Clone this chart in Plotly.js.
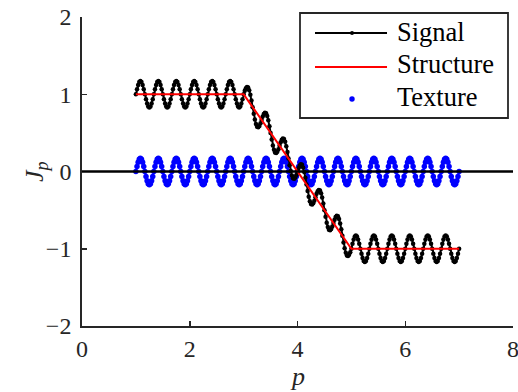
<!DOCTYPE html>
<html><head><meta charset="utf-8">
<script src="https://cdn.plot.ly/plotly-3.0.1.min.js"></script>
<style>html,body{margin:0;padding:0;background:#fff;}#chart{width:518px;height:392px;}</style>
</head><body><div id="chart"></div>
<script>
var p = [
1,1.021,1.042,1.063,1.083,1.104,1.125,1.146,1.167,1.188,1.208,1.229,1.25,1.271,1.292,1.313,1.333,1.354,1.375,1.396,1.417,1.438,1.458,1.479,1.5,1.521,1.542,1.563,1.583,1.604,1.625,1.646,1.667,1.688,1.708,1.729,1.75,1.771,1.792,1.813,1.833,1.854,1.875,1.896,1.917,1.938,1.958,1.979,
2,2.021,2.042,2.063,2.083,2.104,2.125,2.146,2.167,2.188,2.208,2.229,2.25,2.271,2.292,2.313,2.333,2.354,2.375,2.396,2.417,2.438,2.458,2.479,2.5,2.521,2.542,2.563,2.583,2.604,2.625,2.646,2.667,2.688,2.708,2.729,2.75,2.771,2.792,2.813,2.833,2.854,2.875,2.896,2.917,2.938,2.958,2.979,
3,3.021,3.042,3.063,3.083,3.104,3.125,3.146,3.167,3.188,3.208,3.229,3.25,3.271,3.292,3.313,3.333,3.354,3.375,3.396,3.417,3.438,3.458,3.479,3.5,3.521,3.542,3.563,3.583,3.604,3.625,3.646,3.667,3.688,3.708,3.729,3.75,3.771,3.792,3.813,3.833,3.854,3.875,3.896,3.917,3.938,3.958,3.979,
4,4.021,4.042,4.063,4.083,4.104,4.125,4.146,4.167,4.188,4.208,4.229,4.25,4.271,4.292,4.313,4.333,4.354,4.375,4.396,4.417,4.438,4.458,4.479,4.5,4.521,4.542,4.563,4.583,4.604,4.625,4.646,4.667,4.688,4.708,4.729,4.75,4.771,4.792,4.813,4.833,4.854,4.875,4.896,4.917,4.938,4.958,4.979,
5,5.021,5.042,5.063,5.083,5.104,5.125,5.146,5.167,5.188,5.208,5.229,5.25,5.271,5.292,5.313,5.333,5.354,5.375,5.396,5.417,5.438,5.458,5.479,5.5,5.521,5.542,5.563,5.583,5.604,5.625,5.646,5.667,5.688,5.708,5.729,5.75,5.771,5.792,5.813,5.833,5.854,5.875,5.896,5.917,5.938,5.958,5.979,
6,6.021,6.042,6.063,6.083,6.104,6.125,6.146,6.167,6.188,6.208,6.229,6.25,6.271,6.292,6.313,6.333,6.354,6.375,6.396,6.417,6.438,6.458,6.479,6.5,6.521,6.542,6.563,6.583,6.604,6.625,6.646,6.667,6.688,6.708,6.729,6.75,6.771,6.792,6.813,6.833,6.854,6.875,6.896,6.917,6.938,6.958,6.979,
7];

var texture = [
0,0.065,0.12,0.157,0.17,0.157,0.12,0.065,0,-0.065,-0.12,-0.157,-0.17,-0.157,-0.12,-0.065, 0,0.065,0.12,0.157,0.17,0.157,0.12,0.065,0,-0.065,-0.12,-0.157,-0.17,-0.157,-0.12,-0.065, 0,0.065,0.12,0.157,0.17,0.157,0.12,0.065,0,-0.065,-0.12,-0.157,-0.17,-0.157,-0.12,-0.065,
0,0.065,0.12,0.157,0.17,0.157,0.12,0.065,0,-0.065,-0.12,-0.157,-0.17,-0.157,-0.12,-0.065, 0,0.065,0.12,0.157,0.17,0.157,0.12,0.065,0,-0.065,-0.12,-0.157,-0.17,-0.157,-0.12,-0.065, 0,0.065,0.12,0.157,0.17,0.157,0.12,0.065,0,-0.065,-0.12,-0.157,-0.17,-0.157,-0.12,-0.065,
0,0.065,0.12,0.157,0.17,0.157,0.12,0.065,0,-0.065,-0.12,-0.157,-0.17,-0.157,-0.12,-0.065, 0,0.065,0.12,0.157,0.17,0.157,0.12,0.065,0,-0.065,-0.12,-0.157,-0.17,-0.157,-0.12,-0.065, 0,0.065,0.12,0.157,0.17,0.157,0.12,0.065,0,-0.065,-0.12,-0.157,-0.17,-0.157,-0.12,-0.065,
0,0.065,0.12,0.157,0.17,0.157,0.12,0.065,0,-0.065,-0.12,-0.157,-0.17,-0.157,-0.12,-0.065, 0,0.065,0.12,0.157,0.17,0.157,0.12,0.065,0,-0.065,-0.12,-0.157,-0.17,-0.157,-0.12,-0.065, 0,0.065,0.12,0.157,0.17,0.157,0.12,0.065,0,-0.065,-0.12,-0.157,-0.17,-0.157,-0.12,-0.065,
0,0.065,0.12,0.157,0.17,0.157,0.12,0.065,0,-0.065,-0.12,-0.157,-0.17,-0.157,-0.12,-0.065, 0,0.065,0.12,0.157,0.17,0.157,0.12,0.065,0,-0.065,-0.12,-0.157,-0.17,-0.157,-0.12,-0.065, 0,0.065,0.12,0.157,0.17,0.157,0.12,0.065,0,-0.065,-0.12,-0.157,-0.17,-0.157,-0.12,-0.065,
0,0.065,0.12,0.157,0.17,0.157,0.12,0.065,0,-0.065,-0.12,-0.157,-0.17,-0.157,-0.12,-0.065, 0,0.065,0.12,0.157,0.17,0.157,0.12,0.065,0,-0.065,-0.12,-0.157,-0.17,-0.157,-0.12,-0.065, 0,0.065,0.12,0.157,0.17,0.157,0.12,0.065,0,-0.065,-0.12,-0.157,-0.17,-0.157,-0.12,-0.065,
0];

var structure = [
1,1,1,1,1,1,1,1,1,1,1,1, 1,1,1,1,1,1,1,1,1,1,1,1, 1,1,1,1,1,1,1,1,1,1,1,1, 1,1,1,1,1,1,1,1,1,1,1,1,
1,1,1,1,1,1,1,1,1,1,1,1, 1,1,1,1,1,1,1,1,1,1,1,1, 1,1,1,1,1,1,1,1,1,1,1,1, 1,1,1,1,1,1,1,1,1,1,1,1,
1,0.979,0.958,0.938,0.917,0.896,0.875,0.854,0.833,0.813,0.792,0.771,0.75,0.729,0.708,0.688,0.667,0.646,0.625,0.604,0.583,0.563,0.542,0.521,0.5,0.479,0.458,0.438,0.417,0.396,0.375,0.354,0.333,0.313,0.292,0.271,0.25,0.229,0.208,0.188,0.167,0.146,0.125,0.104,0.083,0.063,0.042,0.021,
0,-0.021,-0.042,-0.063,-0.083,-0.104,-0.125,-0.146,-0.167,-0.188,-0.208,-0.229,-0.25,-0.271,-0.292,-0.313,-0.333,-0.354,-0.375,-0.396,-0.417,-0.438,-0.458,-0.479,-0.5,-0.521,-0.542,-0.563,-0.583,-0.604,-0.625,-0.646,-0.667,-0.688,-0.708,-0.729,-0.75,-0.771,-0.792,-0.813,-0.833,-0.854,-0.875,-0.896,-0.917,-0.938,-0.958,-0.979,
-1,-1,-1,-1,-1,-1,-1,-1,-1,-1,-1,-1, -1,-1,-1,-1,-1,-1,-1,-1,-1,-1,-1,-1, -1,-1,-1,-1,-1,-1,-1,-1,-1,-1,-1,-1, -1,-1,-1,-1,-1,-1,-1,-1,-1,-1,-1,-1,
-1,-1,-1,-1,-1,-1,-1,-1,-1,-1,-1,-1, -1,-1,-1,-1,-1,-1,-1,-1,-1,-1,-1,-1, -1,-1,-1,-1,-1,-1,-1,-1,-1,-1,-1,-1, -1,-1,-1,-1,-1,-1,-1,-1,-1,-1,-1,-1,
-1];

var signal = [
1,1.065,1.12,1.157,1.17,1.157,1.12,1.065,1,0.935,0.88,0.843,0.83,0.843,0.88,0.935, 1,1.065,1.12,1.157,1.17,1.157,1.12,1.065,1,0.935,0.88,0.843,0.83,0.843,0.88,0.935, 1,1.065,1.12,1.157,1.17,1.157,1.12,1.065,1,0.935,0.88,0.843,0.83,0.843,0.88,0.935,
1,1.065,1.12,1.157,1.17,1.157,1.12,1.065,1,0.935,0.88,0.843,0.83,0.843,0.88,0.935, 1,1.065,1.12,1.157,1.17,1.157,1.12,1.065,1,0.935,0.88,0.843,0.83,0.843,0.88,0.935, 1,1.065,1.12,1.157,1.17,1.157,1.12,1.065,1,0.935,0.88,0.843,0.83,0.843,0.88,0.935,
1,1.044,1.078,1.095,1.087,1.053,0.995,0.919,0.833,0.748,0.672,0.614,0.58,0.572,0.588,0.623,0.667,0.711,0.745,0.761,0.753,0.72,0.662,0.586,0.5,0.414,0.338,0.281,0.247,0.239,0.255,0.289,0.333,0.378,0.412,0.428,0.42,0.386,0.328,0.253,0.167,0.081,0.005,-0.053,-0.087,-0.095,-0.078,-0.044,
0,0.044,0.078,0.095,0.087,0.053,-0.005,-0.081,-0.167,-0.253,-0.328,-0.386,-0.42,-0.428,-0.412,-0.378,-0.333,-0.289,-0.255,-0.239,-0.247,-0.281,-0.338,-0.414,-0.5,-0.586,-0.662,-0.72,-0.753,-0.761,-0.745,-0.711,-0.667,-0.623,-0.588,-0.572,-0.58,-0.614,-0.672,-0.748,-0.833,-0.919,-0.995,-1.053,-1.087,-1.095,-1.078,-1.044,
-1,-0.935,-0.88,-0.843,-0.83,-0.843,-0.88,-0.935,-1,-1.065,-1.12,-1.157,-1.17,-1.157,-1.12,-1.065, -1,-0.935,-0.88,-0.843,-0.83,-0.843,-0.88,-0.935,-1,-1.065,-1.12,-1.157,-1.17,-1.157,-1.12,-1.065, -1,-0.935,-0.88,-0.843,-0.83,-0.843,-0.88,-0.935,-1,-1.065,-1.12,-1.157,-1.17,-1.157,-1.12,-1.065,
-1,-0.935,-0.88,-0.843,-0.83,-0.843,-0.88,-0.935,-1,-1.065,-1.12,-1.157,-1.17,-1.157,-1.12,-1.065, -1,-0.935,-0.88,-0.843,-0.83,-0.843,-0.88,-0.935,-1,-1.065,-1.12,-1.157,-1.17,-1.157,-1.12,-1.065, -1,-0.935,-0.88,-0.843,-0.83,-0.843,-0.88,-0.935,-1,-1.065,-1.12,-1.157,-1.17,-1.157,-1.12,-1.065,
-1];

var seriesNames = ['Signal', 'Structure', 'Texture'];
var xTicks = [0, 2, 4, 6, 8];
var yTicks = [-2, -1, 0, 1, 2];

if (p.length !== texture.length || p.length !== structure.length || p.length !== signal.length) {
  throw new Error('length mismatch ' + p.length + ' ' + texture.length + ' ' + structure.length + ' ' + signal.length);
}

var serif = 'Liberation Serif';
var axisColor = '#262626';

var traces = [
  {x: p, y: texture, name: seriesNames[2], mode: 'markers', type: 'scatter',
   marker: {color: '#0000ff', size: 5.5}, showlegend: false},
  {x: p, y: signal, name: seriesNames[0], mode: 'lines+markers', type: 'scatter',
   line: {color: '#000000', width: 2}, marker: {color: '#000000', size: 4.5}, showlegend: false},
  {x: p, y: structure, name: seriesNames[1], mode: 'lines', type: 'scatter',
   line: {color: '#ff0000', width: 2}, showlegend: false}
];

// legend geometry in paper coords
var lgX0 = 0.5058, lgX1 = 0.9884, lgY0 = 0.6731, lgY1 = 1.0129;
var symX0 = 0.5406, symX1 = 0.7077, symXc = 0.6265, txtX = 0.7262;
var rowY = [0.9482, 0.8382, 0.7346];
var txtY = [0.9515, 0.8479, 0.7427];

var shapes = [
  {type: 'line', xref: 'paper', yref: 'y', x0: 0, x1: 1, y0: 0, y1: 0,
   line: {color: '#000000', width: 2.5}, layer: 'above'},
  {type: 'rect', xref: 'paper', yref: 'paper', x0: lgX0, x1: lgX1, y0: lgY0, y1: lgY1,
   fillcolor: '#ffffff', line: {color: axisColor, width: 1.8}, layer: 'above'},
  {type: 'line', xref: 'paper', yref: 'paper', x0: symX0, x1: symX1, y0: rowY[0], y1: rowY[0],
   line: {color: '#000000', width: 2}, layer: 'above'},
  {type: 'circle', xref: 'paper', yref: 'paper', xsizemode: 'pixel', ysizemode: 'pixel',
   xanchor: symXc, yanchor: rowY[0], x0: -2, x1: 2, y0: -2, y1: 2,
   fillcolor: '#000000', line: {width: 0}, layer: 'above'},
  {type: 'line', xref: 'paper', yref: 'paper', x0: symX0, x1: symX1, y0: rowY[1], y1: rowY[1],
   line: {color: '#ff0000', width: 2}, layer: 'above'},
  {type: 'circle', xref: 'paper', yref: 'paper', xsizemode: 'pixel', ysizemode: 'pixel',
   xanchor: symXc, yanchor: rowY[2], x0: -2.7, x1: 2.7, y0: -2.7, y1: 2.7,
   fillcolor: '#0000ff', line: {width: 0}, layer: 'above'}
];

var annotations = seriesNames.map(function(n, i) {
  return {text: n, xref: 'paper', yref: 'paper', x: txtX, y: txtY[i], xanchor: 'left', yanchor: 'middle',
          showarrow: false, font: {family: serif, size: 26.5, color: '#000000'}};
});
annotations.push({text: '<i>J</i><sub><i>p</i></sub>', xref: 'paper', yref: 'paper', x: -0.108, y: 0.5,
  xanchor: 'center', yanchor: 'middle', textangle: -90, showarrow: false,
  font: {family: serif, size: 26, color: axisColor}});
annotations.push({text: '<i>p</i>', xref: 'paper', yref: 'paper', x: 0.5, y: -0.165,
  xanchor: 'center', yanchor: 'middle', showarrow: false,
  font: {family: serif, size: 26, color: axisColor}});

var layout = {
  width: 518, height: 392,
  margin: {l: 82, r: 5, t: 17, b: 66},
  paper_bgcolor: '#ffffff', plot_bgcolor: '#ffffff',
  showlegend: false,
  xaxis: {
    range: [0, 8], tickvals: xTicks, ticktext: xTicks.map(String),
    showgrid: false, zeroline: false, showline: true, linecolor: axisColor, linewidth: 1.8,
    ticks: 'inside', ticklen: 5, tickwidth: 1.5, tickcolor: axisColor,
    tickfont: {family: serif, size: 24, color: axisColor}, ticklabeloverflow: 'allow'
  },
  yaxis: {
    range: [-2, 2], tickvals: yTicks, ticktext: yTicks.map(function(v){return v < 0 ? '\u2212' + Math.abs(v) : String(v);}),
    showgrid: false, zeroline: false, showline: true, linecolor: axisColor, linewidth: 1.8,
    ticks: 'inside', ticklen: 5, tickwidth: 1.5, tickcolor: axisColor, ticklabelstandoff: 4,
    tickfont: {family: serif, size: 24, color: axisColor}, ticklabeloverflow: 'allow'
  },
  shapes: shapes,
  annotations: annotations
};

Plotly.newPlot('chart', [traces[0], traces[1], traces[2]], layout, {staticPlot: true, displayModeBar: false});
</script>
</body></html>
